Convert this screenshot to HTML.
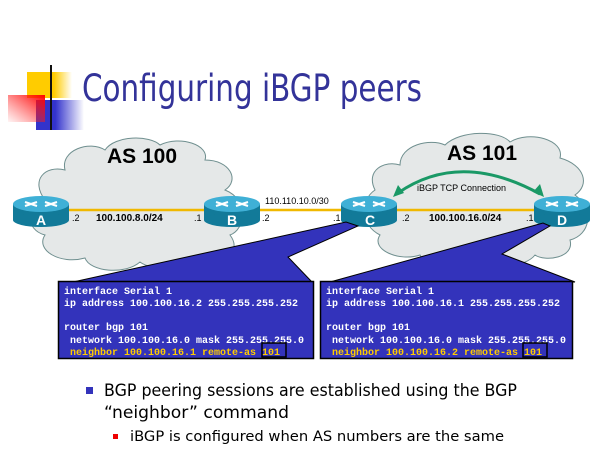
<!DOCTYPE html>
<html><head><meta charset="utf-8"><style>
html,body{margin:0;padding:0;background:#fff;}
svg{display:block;}
.code{font-family:"Liberation Mono",monospace;font-size:10px;font-weight:bold;fill:#fff;white-space:pre;}
</style></head><body>
<svg width="600" height="450" viewBox="0 0 600 450" xmlns="http://www.w3.org/2000/svg">
<defs>
<linearGradient id="yg" x1="0" x2="1"><stop offset="0.6" stop-color="#ffcc00"/><stop offset="1" stop-color="#ffcc00" stop-opacity="0"/></linearGradient>
<linearGradient id="bg" x1="0" x2="1"><stop offset="0.4" stop-color="#3333cc"/><stop offset="1" stop-color="#3333cc" stop-opacity="0"/></linearGradient>
<linearGradient id="pg" x1="1" y1="0" x2="0" y2="1"><stop offset="0" stop-color="#ff0000"/><stop offset="1" stop-color="#ff3333" stop-opacity="0.05"/></linearGradient>
<linearGradient id="lg" x1="0" x2="1"><stop offset="0" stop-color="#222"/><stop offset="1" stop-color="#999"/></linearGradient>
<g id="router">
<rect x="-28" y="-6" width="56" height="16" fill="#127a99"/>
<ellipse cx="0" cy="10" rx="28" ry="7" fill="#127a99"/>
<ellipse cx="0" cy="-6" rx="28" ry="8" fill="#3fb0d6"/>
<path d="M-16,-8 L-4,-4 M4,-8 L16,-4 M-16,-4 L-4,-8 M4,-4 L16,-8" stroke="#fff" stroke-width="2"/>
</g>
</defs>
<!-- logo -->
<rect x="27" y="72" width="45" height="26" fill="url(#yg)"/>
<rect x="36" y="100" width="48" height="30" fill="url(#bg)"/>
<rect x="8" y="95" width="37" height="27" fill="url(#pg)"/>
<line x1="51" y1="65" x2="51" y2="130" stroke="#111" stroke-width="2"/>
<line x1="30" y1="118" x2="600" y2="118" stroke="url(#lg)" stroke-width="2"/>
<text x="82" y="101" font-family="'DejaVu Sans',sans-serif" font-size="37" fill="#333399" textLength="340" lengthAdjust="spacingAndGlyphs">Configuring iBGP peers</text>
<!-- clouds -->
<path d="M45,200 C30,180 45,165 65,170 C60,150 90,140 105,150 C115,135 150,135 160,145 C180,135 210,145 205,160 C230,160 240,180 225,190 C250,200 245,230 230,235 C245,255 215,265 200,255 C190,275 150,270 140,262 C125,275 90,272 85,258 C60,265 35,250 45,235 C25,230 25,205 45,200 Z" fill="#e5e8e8" stroke="#6f8f8f" stroke-width="1"/>
<path d="M375,190 C365,170 385,160 400,165 C400,145 430,138 445,145 C460,130 500,130 510,142 C530,130 565,140 560,158 C585,165 590,185 575,195 C595,210 590,235 570,240 C575,258 545,262 535,255 C525,268 490,270 480,260 C465,272 425,268 420,255 C400,262 370,250 380,235 C360,225 360,200 375,190 Z" fill="#e5e8e8" stroke="#6f8f8f" stroke-width="1"/>
<text x="107" y="163" font-family="'Liberation Sans',sans-serif" font-weight="bold" font-size="21" fill="#000">AS 100</text>
<text x="447" y="160" font-family="'Liberation Sans',sans-serif" font-weight="bold" font-size="21" fill="#000">AS 101</text>
<!-- links -->
<line x1="40" y1="210" x2="562" y2="210" stroke="#f0b800" stroke-width="2.5"/>
<!-- iBGP arc -->
<path d="M398,193 Q460,150 540,194" fill="none" stroke="#1a9966" stroke-width="3"/>
<polygon points="393,197 398,185 404,193" fill="#1a9966"/>
<polygon points="544,197 533,192 540,184" fill="#1a9966"/>
<text x="417" y="191" font-family="'Liberation Sans',sans-serif" font-size="9" fill="#000">iBGP TCP Connection</text>
<!-- routers -->
<use href="#router" x="41" y="210"/>
<use href="#router" x="232" y="210"/>
<use href="#router" x="369" y="210"/>
<use href="#router" x="562" y="210"/>
<g font-family="'Liberation Sans',sans-serif" font-weight="bold" font-size="14" fill="#fff" text-anchor="middle">
<text x="41" y="225">A</text><text x="232" y="225">B</text><text x="370" y="225">C</text><text x="562" y="225">D</text>
</g>
<g font-family="'Liberation Sans',sans-serif" font-size="9" fill="#000">
<text x="72" y="221">.2</text><text x="194" y="221">.1</text><text x="262" y="221">.2</text><text x="333" y="221">.1</text>
<text x="402" y="221">.2</text><text x="526" y="221">.1</text>
<text x="265" y="204">110.110.10.0/30</text>
</g>
<g font-family="'Liberation Sans',sans-serif" font-weight="bold" font-size="10" fill="#000">
<text x="96" y="221">100.100.8.0/24</text>
<text x="429" y="221">100.100.16.0/24</text>
</g>
<!-- wedges -->
<polygon points="73,282 346,222 358,226 288,257 312,282" fill="#3333bb" stroke="#000" stroke-width="1"/>
<polygon points="330,282 543,223 550,226 502,254 575,282" fill="#3333bb" stroke="#000" stroke-width="1"/>
<!-- boxes -->
<rect x="58.5" y="281.5" width="255" height="77" fill="#3333bb" stroke="#000" stroke-width="1.5"/>
<rect x="320.5" y="281.5" width="252" height="77" fill="#3333bb" stroke="#000" stroke-width="1.5"/>
<text class="code" x="64" y="294">interface Serial 1</text>
<text class="code" x="64" y="306">ip address 100.100.16.2 255.255.255.252</text>
<text class="code" x="64" y="330">router bgp 101</text>
<text class="code" x="64" y="343"> network 100.100.16.0 mask 255.255.255.0</text>
<text class="code" x="64" y="355" style="fill:#ffcc00"> neighbor 100.100.16.1 remote-as 101</text>
<rect x="262" y="343" width="24" height="14" fill="none" stroke="#000" stroke-width="1.5"/>
<text class="code" x="326" y="294">interface Serial 1</text>
<text class="code" x="326" y="306">ip address 100.100.16.1 255.255.255.252</text>
<text class="code" x="326" y="330">router bgp 101</text>
<text class="code" x="326" y="343"> network 100.100.16.0 mask 255.255.255.0</text>
<text class="code" x="326" y="355" style="fill:#ffcc00"> neighbor 100.100.16.2 remote-as 101</text>
<rect x="523" y="343" width="24" height="14" fill="none" stroke="#000" stroke-width="1.5"/>
<!-- bullets -->
<rect x="86" y="387" width="7" height="7" fill="#3333bb"/>
<text x="104" y="396" font-family="'DejaVu Sans',sans-serif" font-size="17" fill="#000" textLength="413" lengthAdjust="spacingAndGlyphs">BGP peering sessions are established using the BGP</text>
<text x="104" y="418" font-family="'DejaVu Sans',sans-serif" font-size="17" fill="#000" textLength="185" lengthAdjust="spacingAndGlyphs">“neighbor” command</text>
<rect x="113" y="434" width="5" height="5" fill="#e00"/>
<text x="130" y="441" font-family="'DejaVu Sans',sans-serif" font-size="14" fill="#000" textLength="374" lengthAdjust="spacingAndGlyphs">iBGP is configured when AS numbers are the same</text>
</svg>
</body></html>
